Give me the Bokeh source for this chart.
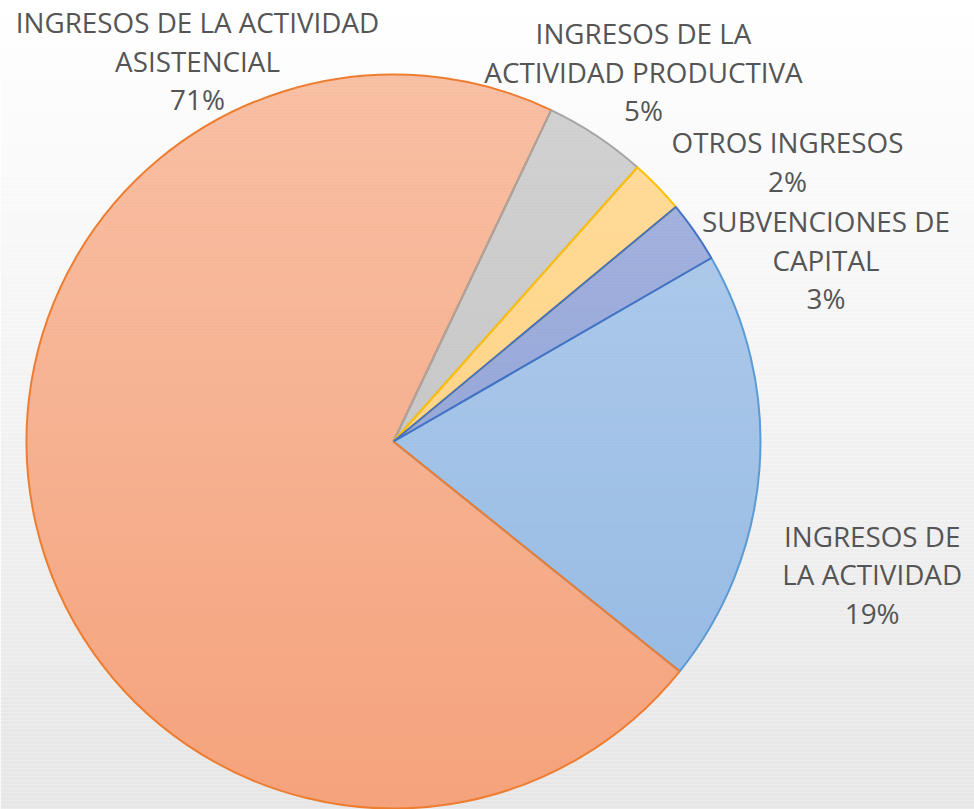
import math
import numpy as np
from bokeh.plotting import figure
from bokeh.models import Range1d
from bokeh.core.properties import value
from bokeh.embed import file_html
from bokeh.resources import INLINE

# ---------------- data ----------------
categories = [
    "INGRESOS DE LA ACTIVIDAD",
    "INGRESOS DE LA ACTIVIDAD ASISTENCIAL",
    "INGRESOS DE LA ACTIVIDAD PRODUCTIVA",
    "OTROS INGRESOS",
    "SUBVENCIONES DE CAPITAL",
]
values = [19.1, 71.3, 4.5, 2.4, 2.7]
label_lines = [
    ["INGRESOS DE", "LA ACTIVIDAD"],
    ["INGRESOS DE LA ACTIVIDAD", "ASISTENCIAL"],
    ["INGRESOS DE LA", "ACTIVIDAD PRODUCTIVA"],
    ["OTROS INGRESOS"],
    ["SUBVENCIONES DE", "CAPITAL"],
]

# ---------------- styles / layout ----------------
fill_colors = ["#92B8E3", "#F5A37C", "#BEBEBE", "#FFCD72", "#8397D2"]
edge_colors = ["#5B9BD5", "#ED7D31", "#A5A5A5", "#FFC000", "#4472C4"]
first_slice_angle = 60.0   # degrees, clockwise from 12 o'clock
R = 367
W, H = 974, 809
CX, CY = 393, 441          # pie centre, screen px
label_x = [871.7, 197, 643, 787, 825.5]
label_y = [536.7, 23, 34, 143, 222]   # centre of first line's capitals
line_step = 38.7
font = "Open Sans"
font_px = 27.8
baseline_shift = 0.714 * font_px / 2 - 11.5
text_color = "#555555"


def sx(x):
    return x - CX


def sy(y):
    return CY - y


def pct(v):
    return "%d%%" % math.floor(v / sum(values) * 100 + 0.5)


p = figure(width=W, height=H, output_backend="svg", toolbar_location=None,
           x_axis_type=None, y_axis_type=None, min_border=0,
           x_range=Range1d(sx(0), sx(W)), y_range=Range1d(sy(H), sy(0)))
p.grid.visible = False
p.outline_line_color = None
p.background_fill_color = "white"
p.border_fill_color = "white"

# background vertical gradient (white -> light grey)
bg_top, bg_bot, bg_col = [], [], []
step = 4
for y0 in range(0, H, step):
    y1 = min(y0 + step, H)
    t = (y0 + y1) / 2 / H
    c = int(round(255 - 25 * t))
    bg_top.append(sy(y0))
    bg_bot.append(sy(y1))
    bg_col.append("#%02x%02x%02x" % (c, c, c))
p.quad(left=sx(0), right=sx(W), top=bg_top, bottom=bg_bot,
       fill_color=bg_col, line_color=None)

# slice angles
total = sum(values)
starts, ends = [], []
cum = first_slice_angle
for v in values:
    span = 360.0 * v / total
    t1, t2 = cum, cum + span
    starts.append(math.radians(90 - t2))
    ends.append(math.radians(90 - t1))
    cum = t2

# slice fills
p.wedge(x=0, y=0, radius=R, start_angle=starts, end_angle=ends,
        direction="anticlock", fill_color=fill_colors, line_color=None)

# light gradient overlay clipped to the pie (top lighter)
xs, ys, alphas = [], [], []
top_y, bot_y = CY - R, CY + R
for y0 in range(top_y, bot_y, 3):
    y1 = min(y0 + 3, bot_y)
    yy = np.linspace(y0, y1, 4)
    dy = yy - CY
    half = np.sqrt(np.clip(R * R - dy * dy, 0, None))
    px = list(-half) + list(half[::-1])
    py = [sy(v) for v in yy] + [sy(v) for v in yy[::-1]]
    xs.append(px)
    ys.append(py)
    alphas.append(0.32 * (bot_y - (y0 + y1) / 2) / (2 * R))
p.patches(xs=xs, ys=ys, fill_color="white", fill_alpha=alphas, line_color=None)

# slice outlines
p.wedge(x=0, y=0, radius=R, start_angle=starts, end_angle=ends,
        direction="anticlock", fill_color=None, line_color=edge_colors,
        line_width=2)

# labels
tx, ty, tt = [], [], []
for i, (lines, v) in enumerate(zip(label_lines, values)):
    all_lines = lines + [pct(v)]
    for j, s in enumerate(all_lines):
        tx.append(sx(label_x[i]))
        ty.append(sy(label_y[i] + baseline_shift + j * line_step))
        tt.append(s)
p.text(x=tx, y=ty, text=tt, text_align="center", text_baseline="alphabetic",
       text_font=value(font), text_font_size="%.1fpx" % font_px,
       text_color=text_color)

open("out.html", "w").write(file_html(p, INLINE))
